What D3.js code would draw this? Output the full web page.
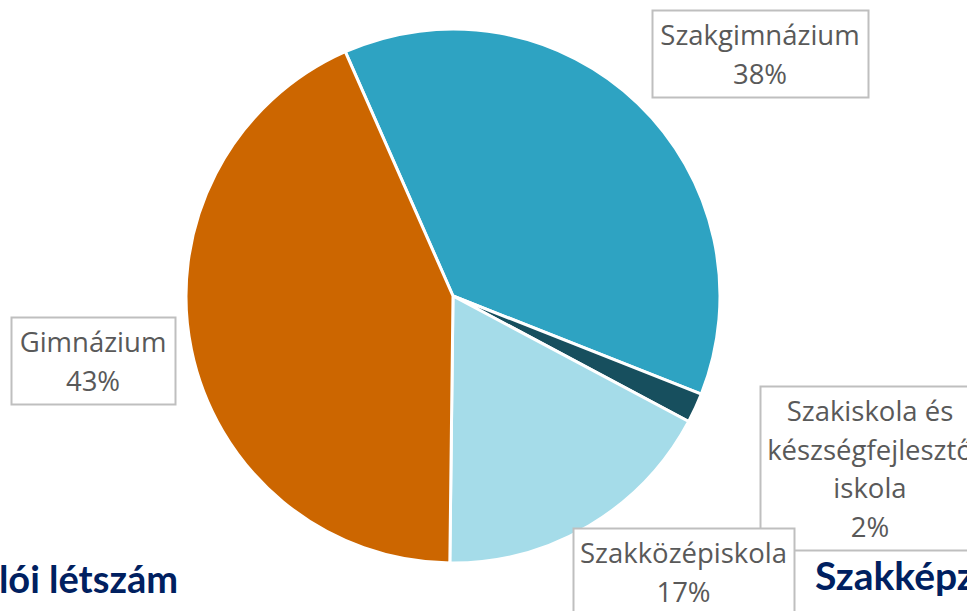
<!DOCTYPE html>
<html>
<head>
<meta charset="utf-8">
<script src="https://cdn.jsdelivr.net/npm/d3@7"></script>
<style>
  body { margin: 0; background: #fff; overflow: hidden; }
  svg { display: block; }
</style>
</head>
<body>
<div id="chart"></div>
<script>
  // data
  const categories = ["Szakgimnázium", "Szakiskola és készségfejlesztő iskola", "Szakközépiskola", "Gimnázium"];
  const values = [37.6, 1.8, 17.4, 43.2];
  const colors = ["#2ea3c2", "#174f5e", "#a5dce9", "#cc6600"];
  const labelLines = [
    ["Szakgimnázium"],
    ["Szakiskola és", "készségfejlesztő", "iskola"],
    ["Szakközépiskola"],
    ["Gimnázium"]
  ];

  const width = 967, height = 611;
  const cx = 453, cy = 296, radius = 267;
  const startDeg = -23.8;

  // label boxes [x, y, w, h] in page px
  const boxes = [
    [652, 10, 216, 87],
    [760, 386, 220, 164],
    [573, 528, 221, 100],
    [11, 317, 164, 87]
  ];
  const lineH = 38.5;

  const svg = d3.select("#chart")
    .append("svg")
    .attr("width", width)
    .attr("height", height);

  const pie = d3.pie()
    .sort(null)
    .value(d => d)
    .startAngle(startDeg * Math.PI / 180)
    .endAngle(startDeg * Math.PI / 180 + 2 * Math.PI);

  const arc = d3.arc().innerRadius(0).outerRadius(radius);

  svg.append("g")
    .attr("transform", `translate(${cx},${cy})`)
    .selectAll("path")
    .data(pie(values))
    .join("path")
    .attr("d", arc)
    .attr("fill", (d, i) => colors[i])
    .attr("stroke", "#fff")
    .attr("stroke-width", 3)
    .attr("stroke-linejoin", "round");

  // background titles from the slide, partly cut off
  svg.append("text")
    .attr("x", 178).attr("y", 593)
    .attr("text-anchor", "end")
    .style("font-family", "Lato, 'Open Sans', sans-serif")
    .style("font-weight", "bold")
    .style("font-size", "38px")
    .attr("fill", "#002060")
    .text("Tanulói létszám");

  // labels
  const fmt = v => Math.round(v) + "%";
  const labels = svg.append("g").selectAll("g")
    .data(categories)
    .join("g");

  labels.append("rect")
    .attr("x", (d, i) => boxes[i][0] + 0.5)
    .attr("y", (d, i) => boxes[i][1] + 0.5)
    .attr("width", (d, i) => boxes[i][2])
    .attr("height", (d, i) => boxes[i][3])
    .attr("fill", "#fff")
    .attr("stroke", "#bfbfbf")
    .attr("stroke-width", 2);

  labels.each(function(d, i) {
    const b = boxes[i];
    const lines = labelLines[i].concat([fmt(values[i])]);
    const tx = b[0] + b[2] / 2;
    d3.select(this).append("text")
      .attr("text-anchor", "middle")
      .style("font-family", "'Open Sans', Lato, sans-serif")
      .style("font-size", "27.5px")
      .attr("fill", "#595959")
      .selectAll("tspan")
      .data(lines)
      .join("tspan")
      .attr("x", tx)
      .attr("y", (l, k) => b[1] + 35 + k * lineH)
      .text(l => l);
  });

  svg.append("text")
    .attr("x", 815).attr("y", 590)
    .style("font-family", "Lato, 'Open Sans', sans-serif")
    .style("font-weight", "bold")
    .style("font-size", "39px")
    .attr("fill", "#002060")
    .text("Szakképzés");
</script>
</body>
</html>
